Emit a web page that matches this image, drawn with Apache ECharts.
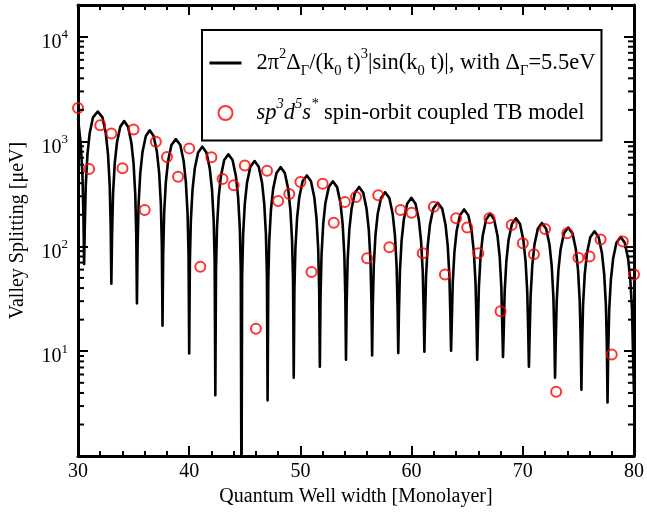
<!DOCTYPE html>
<html>
<head>
<meta charset="utf-8">
<script src="https://cdn.jsdelivr.net/npm/echarts@6/dist/echarts.min.js"></script>
<style>html,body{margin:0;padding:0;background:#fff;}#c{width:647px;height:512px;}</style>
</head>
<body>
<div id="c"></div>
<script>
// TB model valley splitting (red circles), quantum well width 30..80 ML
const tbX = [30,31,32,33,34,35,36,37,38,39,40,41,42,43,44,45,46,47,48,49,50,51,52,53,54,55,56,57,58,59,60,61,62,63,64,65,66,67,68,69,70,71,72,73,74,75,76,77,78,79,80];
const tbY = [2080,545,1425,1190,556,1297,222,993,711,460,859,64,706,438,382,590,16.4,525,270,316,410,57,395,168,264,296,77,307,98,222,209,86,238,54,185,151,86,185,24,160,107,84,146,4.1,133,78,80,116,9.3,111,54];

// Analytic curve, values (one row per lobe)
const curveX = [
30,30.05,30.25,30.4,30.49,30.55,
30.61,30.70,30.85,31.05,31.35,31.78,32.2,32.5,32.7,32.85,32.94,33.0,
33.06,33.15,33.3,33.5,33.8,34.15,34.5,34.8,35.0,35.15,35.24,35.3,
35.36,35.45,35.6,35.8,36.1,36.45,36.8,37.1,37.3,37.45,37.54,37.6,
37.66,37.75,37.9,38.1,38.4,38.8,39.2,39.5,39.7,39.85,39.94,40.0,
40.06,40.15,40.3,40.5,40.8,41.18,41.55,41.85,42.05,42.2,42.29,42.35,
42.41,42.5,42.65,42.85,43.15,43.52,43.9,44.2,44.4,44.55,44.64,44.7,
44.76,44.85,45.0,45.2,45.5,45.88,46.25,46.55,46.75,46.9,46.99,47.05,
47.11,47.2,47.35,47.55,47.85,48.22,48.6,48.9,49.1,49.25,49.34,49.4,
49.46,49.55,49.7,49.9,50.2,50.58,50.95,51.25,51.45,51.6,51.69,51.75,
51.81,51.9,52.05,52.25,52.55,52.92,53.3,53.6,53.8,53.95,54.04,54.1,
54.16,54.25,54.4,54.6,54.9,55.28,55.65,55.95,56.15,56.3,56.39,56.45,
56.51,56.6,56.75,56.95,57.25,57.62,58.0,58.3,58.5,58.65,58.74,58.8,
58.86,58.95,59.1,59.3,59.6,59.98,60.35,60.65,60.85,61.0,61.09,61.15,
61.21,61.3,61.45,61.65,61.95,62.35,62.75,63.05,63.25,63.4,63.49,63.55,
63.61,63.7,63.85,64.05,64.35,64.72,65.1,65.4,65.6,65.75,65.84,65.9,
65.96,66.05,66.2,66.4,66.7,67.06,67.42,67.72,67.92,68.07,68.16,68.22,
68.28,68.37,68.52,68.72,69.02,69.38,69.75,70.05,70.25,70.4,70.49,70.55,
70.61,70.7,70.85,71.05,71.35,71.72,72.1,72.4,72.6,72.75,72.84,72.9,
72.96,73.05,73.2,73.4,73.7,74.08,74.47,74.77,74.97,75.12,75.21,75.27,
75.33,75.42,75.57,75.77,76.07,76.45,76.82,77.12,77.32,77.47,77.56,77.62,
77.68,77.77,77.92,78.12,78.42,78.8,79.17,79.47,79.67,79.82,79.91,80
];
const curveY = [
1650,1490,940,480,190,68,
154,386,753,1197,1698,1930,1698,1197,753,386,154,44,
125,313,611,972,1379,1567,1379,972,611,313,125,28.6,
102,256,498,792,1125,1278,1125,792,498,256,102,17.5,
84,210,410,652,926,1052,926,652,410,210,84,9.5,
71,178,347,552,784,891,784,552,347,178,71,3.8,
60,151,294,467,664,754,664,467,294,151,60,0.3,
52,130,254,404,573,651,573,404,254,130,52,3.4,
46,114,222,353,501,569,501,353,222,114,46,5.6,
38,95,185,294,417,474,417,294,185,95,38,7.1,
33,83,163,259,367,417,367,259,163,83,33,8.3,
29,74,144,228,324,368,324,228,144,74,29,9.1,
26,66,128,203,289,328,289,203,128,66,26,9.6,
23,58,113,180,255,290,255,180,113,58,23,9.9,
21,52,101,161,229,260,229,161,101,52,21,10.1,
18,45,88,140,198,225,198,140,88,45,18,8.3,
16.4,41,80,127,180,205,180,127,80,41,16.4,8.8,
14.8,37,72,115,163,185,163,115,72,37,14.8,7.1,
13.4,33,65,104,147,167,147,104,65,33,13.4,5.6,
12.1,30,59,94,133,151,133,94,59,30,12.1,4.3,
11.1,28,54,86,122,139,122,86,54,28,11.1,3.25,
9.8,25,48,76,108,123,108,76,48,25,9.8,4
];

// log-axis minor tick values
const minorY = [2,3,4,5,6,7,8,9,20,30,40,50,60,70,80,90,200,300,400,500,600,700,800,900,2000,3000,4000,5000,6000,7000,8000,9000];
const xTicks = [30,40,50,60,70,80];

const FONT = 'Liberation Serif';
const chart = echarts.init(document.getElementById('c'));

const curveData = curveX.map((x, i) => [x, curveY[i]]);
const tbData = tbX.map((x, i) => [x, tbY[i]]);

const axisLine = { show: true, lineStyle: { color: '#000', width: 3 } };
const rich = {
  b: { fontFamily: FONT, fontSize: 20, color: '#000', lineHeight: 28 },
  s: { fontFamily: FONT, fontSize: 13, color: '#000', verticalAlign: 'top', lineHeight: 14 }
};

const LF = 22.5, LS = 14.5;
const legendRich = {
  t: { fontFamily: FONT, fontSize: LF, color: '#000', lineHeight: 32, padding: [0,0,0,10] },
  n: { fontFamily: FONT, fontSize: LF, color: '#000', lineHeight: 32 },
  sp: { fontFamily: FONT, fontSize: LS, color: '#000', verticalAlign: 'top', lineHeight: 17 },
  sb: { fontFamily: FONT, fontSize: LS, color: '#000', verticalAlign: 'bottom', lineHeight: 15 },
  i: { fontFamily: FONT, fontSize: LF, fontStyle: 'italic', color: '#000', lineHeight: 32 },
  isp: { fontFamily: FONT, fontSize: LS, fontStyle: 'italic', color: '#000', verticalAlign: 'top', lineHeight: 17 }
};

const option = {
  animation: false,
  backgroundColor: '#fff',
  grid: { left: 70, right: 10, top: 5, bottom: 51, containLabel: false },
  legend: {
    orient: 'vertical', left: 202, top: 30,
    padding: [17, 6, 16, 6],
    borderColor: '#000', borderWidth: 2,
    itemGap: 18, itemWidth: 32, itemHeight: 14,
    selectedMode: false,
    textStyle: { fontFamily: FONT, fontSize: LF, color: '#000', rich: legendRich },
    formatter: function (name) {
      if (name === 'curve') {
        return '{t|2π}{sp|2}{n|Δ}{sb|Γ}{n|/(k}{sb|0}{n| t)}{sp|3}{n||sin(k}{sb|0}{n| t)|, with Δ}{sb|Γ}{n|=5.5eV}';
      }
      return '{t|}{i|sp}{isp|3}{i|d}{isp|5}{i|s}{isp|*}{n| spin-orbit coupled TB model}';
    },
    data: [
      { name: 'curve', itemStyle: { color: 'rgba(0,0,0,0)', borderWidth: 0, opacity: 0 }, lineStyle: { color: '#000', width: 3 } },
      { name: 'tb', icon: 'circle', itemStyle: { color: 'rgba(0,0,0,0)', borderColor: '#ff0000', borderWidth: 2 } }
    ]
  },
  xAxis: [{
    type: 'value', min: 30, max: 80, interval: 10, position: 'bottom',
    axisLine: axisLine,
    axisTick: { show: true, inside: true, length: 10, lineStyle: { color: '#000', width: 2 } },
    minorTick: { show: true, splitNumber: 5, length: 5, lineStyle: { color: '#000', width: 2 } },
    splitLine: { show: false },
    axisLabel: { fontFamily: FONT, fontSize: 20, color: '#000', margin: 6 },
    name: 'Quantum Well width [Monolayer]', nameLocation: 'middle', nameGap: 25,
    nameTextStyle: { fontFamily: FONT, fontSize: 20, color: '#000' }
  }, {
    type: 'value', min: 30, max: 80, interval: 10, position: 'top',
    axisLine: axisLine,
    axisTick: { show: true, inside: true, length: 10, lineStyle: { color: '#000', width: 2 } },
    minorTick: { show: true, splitNumber: 5, length: 5, lineStyle: { color: '#000', width: 2 } },
    splitLine: { show: false }, axisLabel: { show: false }
  }],
  yAxis: [{
    type: 'log', logBase: 10, min: 1, max: 20000, position: 'left',
    axisLine: axisLine,
    axisTick: { show: true, inside: true, length: 10, lineStyle: { color: '#000', width: 2 } },
    splitLine: { show: false },
    axisLabel: {
      margin: 10, showMinLabel: false, showMaxLabel: false, rich: rich, padding: [12, 0, 0, 0],
      formatter: function (v) {
        const e = Math.round(Math.log10(v));
        if (Math.abs(Math.log10(v) - e) > 1e-6 || e < 1 || e > 4) return '';
        return '{b|10}{s|' + e + '}';
      }
    },
    name: 'Valley Splitting [μeV]', nameLocation: 'middle', nameGap: 50, nameRotate: 90,
    nameTextStyle: { fontFamily: FONT, fontSize: 20, color: '#000' }
  }, {
    type: 'log', logBase: 10, min: 1, max: 20000, position: 'right',
    axisLine: axisLine,
    axisTick: { show: true, inside: true, length: 10, lineStyle: { color: '#000', width: 2 } },
    splitLine: { show: false }, axisLabel: { show: false }
  }],
  series: [{
    name: 'curve', type: 'line', data: curveData, xAxisIndex: 0, yAxisIndex: 0,
    showSymbol: false, symbol: 'none', clip: true,
    lineStyle: { color: '#000', width: 2.6, join: 'round' }, itemStyle: { color: '#000' }, z: 2
  }, {
    name: 'tb', type: 'scatter', data: tbData, xAxisIndex: 0, yAxisIndex: 0,
    symbol: 'circle', symbolSize: 10,
    itemStyle: { color: 'rgba(0,0,0,0)', borderColor: '#ff0000', borderWidth: 2 }, z: 3
  }, {
    type: 'custom', xAxisIndex: 0, yAxisIndex: 0, silent: true, z: 4,
    data: minorY.map(v => [30, v]),
    renderItem: function (params, api) {
      const v = api.value(1);
      const l = api.coord([30, v]);
      const r = api.coord([80, v]);
      return { type: 'group', children: [
        { type: 'line', shape: { x1: l[0], y1: l[1], x2: l[0] + 6, y2: l[1] }, style: { stroke: '#000', lineWidth: 2 } },
        { type: 'line', shape: { x1: r[0] - 6, y1: r[1], x2: r[0], y2: r[1] }, style: { stroke: '#000', lineWidth: 2 } }
      ] };
    }
  }]
};
chart.setOption(option);
</script>
</body>
</html>
